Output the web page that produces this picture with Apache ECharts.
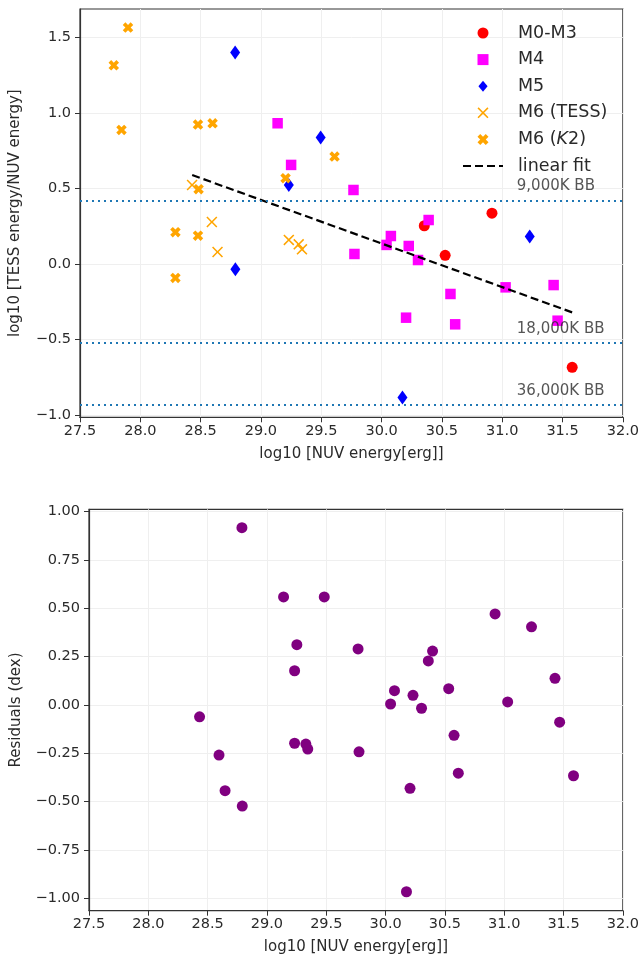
<!DOCTYPE html>
<html><head><meta charset="utf-8">
<script src="https://cdn.jsdelivr.net/npm/echarts@6/dist/echarts.min.js"></script>
<style>html,body{margin:0;padding:0;background:#fff}#c{width:642px;height:961px}</style>
</head><body><div id="c"></div>
<script>
// ---- data (log10 NUV energy, log10 TESS/NUV ratio) ----
const m0m3 = [[30.915,0.337],[30.354,0.254],[30.527,0.058],[31.580,-0.684]];
const m4 = [[29.138,0.933],[29.250,0.657],[29.767,0.491],[30.390,0.292],[29.775,0.067],
  [30.041,0.127],[30.077,0.186],[30.225,0.120],[30.302,0.027],[30.571,-0.198],
  [30.203,-0.355],[30.610,-0.399],[31.028,-0.154],[31.426,-0.139],[31.459,-0.375]];
const m5 = [[28.786,1.401],[29.495,0.838],[29.231,0.524],[28.788,-0.034],[31.228,0.182],[30.173,-0.883]];
const m6Tess = [[28.429,0.524],[28.593,0.279],[28.640,0.080],[29.231,0.160],[29.313,0.131],[29.340,0.098]];
const m6K2 = [[27.898,1.567],[27.780,1.317],[27.844,0.889],[28.478,0.924],[28.599,0.933],[29.204,0.569],
  [28.483,0.496],[29.610,0.712],[28.291,0.211],[28.478,0.188],[28.291,-0.092]];
const fitLine = [[28.43,0.59],[31.58,-0.32]];
const bbLevels = [0.425,-0.521,-0.934];
const bbNames = ['9,000K BB','18,000K BB','36,000K BB'];
const bbLabelX = 31.125;
const residuals = [[28.789,0.917],[29.140,0.559],[29.483,0.559],[29.252,0.312],[29.233,0.177],
  [28.432,-0.061],[29.768,0.290],[30.923,0.471],[31.230,0.404],[30.396,0.279],[30.360,0.228],
  [31.428,0.138],[30.075,0.074],[30.231,0.050],[30.532,0.084],[30.042,0.005],[30.303,-0.017],
  [31.029,0.016],[31.467,-0.089],[28.596,-0.259],[28.647,-0.443],[28.792,-0.523],[29.233,-0.198],
  [29.328,-0.202],[29.344,-0.228],[29.776,-0.242],[30.577,-0.157],[30.613,-0.353],[31.584,-0.366],
  [30.206,-0.431],[30.176,-0.966]];
const xTicks = [27.5,28.0,28.5,29.0,29.5,30.0,30.5,31.0,31.5,32.0];
const yTicksTop = [-1.0,-0.5,0.0,0.5,1.0,1.5];
const yTicksBottom = [-1.0,-0.75,-0.5,-0.25,0.0,0.25,0.5,0.75,1.0];
const legendNames = ['M0-M3','M4','M5','M6 (TESS)','M6 (K2)','linear fit'];

// ---- styling ----
const FONT = 'DejaVu Sans';
const TXT = '#2a2a2a';
const xFilled = 'path://M-1,-2L0,-1L1,-2L2,-1L1,0L2,1L1,2L0,1L-1,2L-2,1L-1,0L-2,-1Z';
const xThin = 'path://M-1.6,-2L0,-0.4L1.6,-2L2,-1.6L0.4,0L2,1.6L1.6,2L0,0.4L-1.6,2L-2,1.6L-0.4,0L-2,-1.6Z';
const thinDiamond = 'path://M0,-6L5,0L0,6L-5,0Z';
const square = 'path://M-1,-1L1,-1L1,1L-1,1Z';
const minus = s => s.replace('-', '\u2212');

function xAxisCfg(gi){
  return {gridIndex: gi, type:'value', min:27.5, max:32.0, interval:0.5,
    name:'log10 [NUV energy[erg]]', nameLocation:'middle', nameGap:29,
    nameTextStyle:{fontFamily:FONT, fontSize:15, color:TXT},
    axisLine:{show:true, onZero:false, lineStyle:{color:'#333', width:1.2}},
    axisTick:{show:true, length:5, customValues:xTicks, lineStyle:{color:'#333'}},
    axisLabel:{fontFamily:FONT, fontSize:14.5, color:TXT, margin:6, customValues:xTicks, formatter:v=>v.toFixed(1)},
    splitLine:{show:true, lineStyle:{color:'#efefef', width:1}}};
}
function yAxisCfg(gi, mn, mx, ticks, dec, name, gap){
  return {gridIndex: gi, type:'value', min:mn, max:mx,
    name:name, nameLocation:'middle', nameGap:gap, nameRotate:90,
    nameTextStyle:{fontFamily:FONT, fontSize:15, color:TXT},
    axisLine:{show:true, onZero:false, lineStyle:{color:'#333', width:1.2}},
    axisTick:{show:true, length:5, customValues:ticks, lineStyle:{color:'#333'}},
    axisLabel:{fontFamily:FONT, fontSize:14.5, color:TXT, margin:9, customValues:ticks,
      formatter:v=>minus(v.toFixed(dec))},
    splitLine:{show:true, lineStyle:{color:'#efefef', width:1}}};
}

const chart = echarts.init(document.getElementById('c'), null, {renderer:'canvas'});
chart.setOption({
  animation:false,
  backgroundColor:'#fff',
  grid:[
    {left:80, right:16, top:9, height:408.3, show:true, borderColor:'#333', borderWidth:1.2, backgroundColor:'transparent'},
    {left:89, right:16, top:509.3, height:401.4, show:true, borderColor:'#333', borderWidth:1.2, backgroundColor:'transparent'}
  ],
  xAxis:[xAxisCfg(0), xAxisCfg(1)],
  yAxis:[
    yAxisCfg(0, -1.015, 1.690, yTicksTop, 1, 'log10 [TESS energy/NUV energy]', 57),
    yAxisCfg(1, -1.064, 1.012, yTicksBottom, 2, 'Residuals (dex)', 65)
  ],
  legend:{
    orient:'vertical', left:457, top:18, itemWidth:40, itemHeight:11, itemGap:6.6,
    data:[
      {name:legendNames[0], icon:'circle'},
      {name:legendNames[1], icon:square},
      {name:legendNames[2], icon:thinDiamond},
      {name:legendNames[3], icon:xThin},
      {name:legendNames[4], icon:xFilled},
      {name:legendNames[5], itemStyle:{opacity:0}}
    ],
    selectedMode:false,
    textStyle:{fontFamily:FONT, fontSize:17.5, color:TXT, lineHeight:20, padding:[0,0,0,10],
      rich:{n:{fontFamily:FONT, fontSize:17.5, color:TXT, lineHeight:20},
            i:{fontFamily:FONT, fontSize:17.5, color:TXT, lineHeight:20, fontStyle:'italic'}}},
    formatter:name => name === 'M6 (K2)' ? '{n|M6 (}{i|K}{n|2)}' : '{n|' + name + '}'
  },
  series:[
    {name:'M0-M3', type:'scatter', xAxisIndex:0, yAxisIndex:0, data:m0m3, symbol:'circle', symbolSize:11,
      itemStyle:{color:'#ff0000', opacity:1}},
    {name:'M4', type:'scatter', xAxisIndex:0, yAxisIndex:0, data:m4, symbol:'rect', symbolSize:10.5,
      itemStyle:{color:'#ff00ff', opacity:1}},
    {name:'M5', type:'scatter', xAxisIndex:0, yAxisIndex:0, data:m5, symbol:'diamond', symbolSize:[10,14],
      itemStyle:{color:'#0000ff', opacity:1}},
    {name:'M6 (TESS)', type:'scatter', xAxisIndex:0, yAxisIndex:0, data:m6Tess, symbol:xThin, symbolSize:11,
      itemStyle:{color:'#ffa500', opacity:1}},
    {name:'M6 (K2)', type:'scatter', xAxisIndex:0, yAxisIndex:0, data:m6K2, symbol:xFilled, symbolSize:10.5,
      itemStyle:{color:'#ffa500', opacity:1}},
    {name:'linear fit', type:'line', xAxisIndex:0, yAxisIndex:0, data:fitLine, showSymbol:false, symbol:'none',
      lineStyle:{color:'#000', width:2.2, type:[8,4]}, itemStyle:{color:'rgba(0,0,0,0)'}, z:3},
    {name:'bb', type:'line', xAxisIndex:0, yAxisIndex:0, data:[], silent:true,
      markLine:{symbol:'none', silent:true, label:{show:false},
        lineStyle:{color:'#1f77b4', width:2, type:[2,4]},
        data: bbLevels.map(v => ({yAxis:v}))}},
    {name:'bbLabels', type:'scatter', xAxisIndex:0, yAxisIndex:0, silent:true, symbolSize:1,
      itemStyle:{color:'rgba(0,0,0,0)'},
      data: bbLevels.map((v,i) => [bbLabelX, v, bbNames[i]]),
      label:{show:true, position:[0,-13], align:'left', verticalAlign:'middle',
        fontFamily:FONT, fontSize:15, color:TXT, formatter:p => p.value[2]}},
    {name:'residuals', type:'scatter', xAxisIndex:1, yAxisIndex:1, data:residuals, symbol:'circle', symbolSize:11,
      itemStyle:{color:'#800080', opacity:1}}
  ]
});
</script></body></html>
